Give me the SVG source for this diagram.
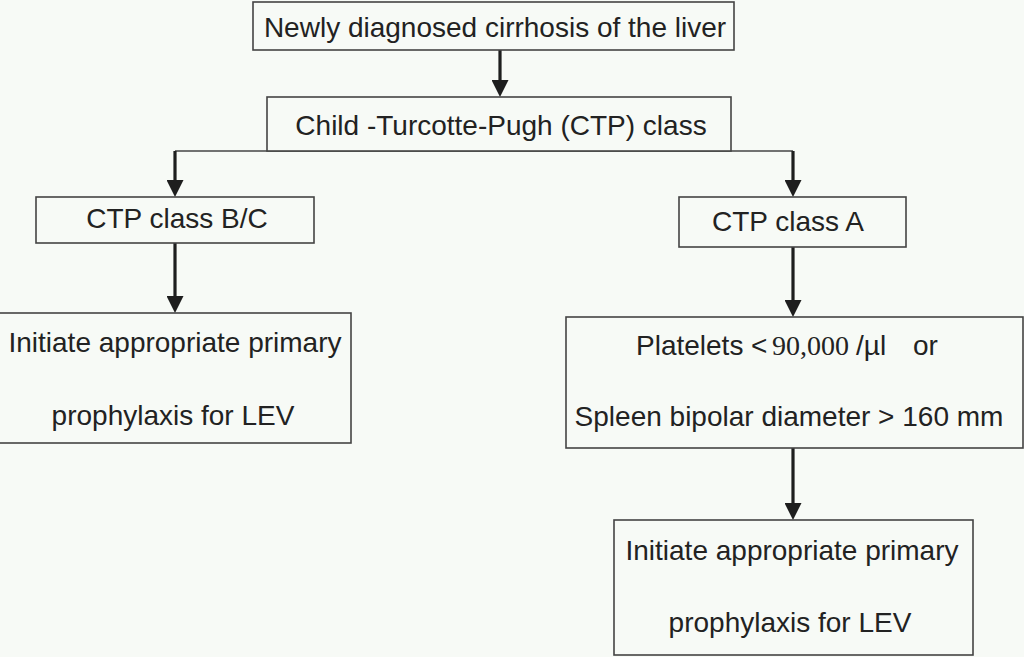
<svg xmlns="http://www.w3.org/2000/svg" width="1024" height="657" viewBox="0 0 1024 657">
<defs>
<style>
.box{fill:#f7faf6;stroke:#444;stroke-width:1.6}
.t{font-family:"Liberation Sans",Arial,sans-serif;font-size:28px;fill:#222}
.c{text-anchor:middle}
.serif{font-family:"Liberation Serif","Times New Roman",serif}
.arr{stroke:#1e1e1e;stroke-width:3.2;fill:none;marker-end:url(#ah)}
.thin{stroke:#444;stroke-width:1.6;fill:none}
</style>
<marker id="ah" viewBox="0 0 17 17" refX="7" refY="8.5" markerWidth="17" markerHeight="17" markerUnits="userSpaceOnUse" orient="auto">
<path d="M0,0 L17,8.5 L0,17 z" fill="#1e1e1e"/>
</marker>
</defs>
<rect width="1024" height="657" fill="#f7faf6"/>
<g id="connectors">
<line class="arr" x1="500" y1="50" x2="500" y2="87"/>
<line class="thin" x1="175" y1="151" x2="793" y2="151"/>
<line class="arr" x1="175" y1="151" x2="175" y2="187"/>
<line class="arr" x1="793" y1="151" x2="793" y2="187"/>
<line class="arr" x1="175" y1="243" x2="175" y2="303"/>
<line class="arr" x1="793" y1="247" x2="793" y2="307"/>
<line class="arr" x1="793" y1="448" x2="793" y2="510"/>
</g>
<g id="n1">
<rect class="box" x="253" y="2" width="481" height="48"/>
<text class="t c" x="495" y="37">Newly diagnosed cirrhosis of the liver</text>
</g>
<g id="n2">
<rect class="box" x="267" y="97" width="464" height="54"/>
<text class="t c" x="501" y="135">Child -Turcotte-Pugh (CTP) class</text>
</g>
<g id="n3">
<rect class="box" x="36" y="197" width="278" height="46"/>
<text class="t c" x="177" y="228">CTP class B/C</text>
</g>
<g id="n4">
<rect class="box" x="-1" y="313" width="352" height="130"/>
<text class="t c" x="175" y="352">Initiate appropriate primary</text>
<text class="t c" x="173" y="425">prophylaxis for LEV</text>
</g>
<g id="n5">
<rect class="box" x="679" y="197" width="227" height="50"/>
<text class="t c" x="788" y="231">CTP class A</text>
</g>
<g id="n6">
<rect class="box" x="566" y="317" width="457" height="131"/>
<text class="t" y="355"><tspan x="636">Platelets</tspan><tspan x="751">&lt;</tspan><tspan x="772" class="serif">90,000</tspan><tspan x="856">/µl</tspan><tspan x="913">or</tspan></text>
<text class="t c" x="789" y="426">Spleen bipolar diameter &gt; 160 mm</text>
</g>
<g id="n7">
<rect class="box" x="614" y="520" width="359" height="135"/>
<text class="t c" x="792" y="560">Initiate appropriate primary</text>
<text class="t c" x="790" y="632">prophylaxis for LEV</text>
</g>
</svg>
